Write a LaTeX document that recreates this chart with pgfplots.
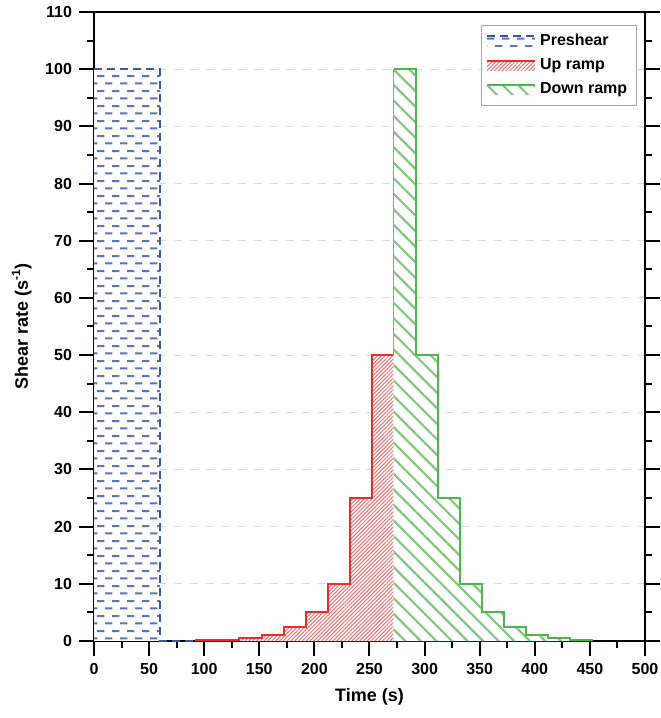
\documentclass[border=0pt]{standalone}
\usepackage{fontspec}
\setmainfont{Liberation Sans}
\usepackage{pgfplots}
\pgfplotsset{compat=1.18}
\usetikzlibrary{patterns.meta}
\definecolor{preline}{HTML}{3A56A8}
\definecolor{prepat}{HTML}{5A74BC}
\definecolor{upline}{HTML}{EE2A2A}
\definecolor{uppat}{HTML}{F27070}
\definecolor{downline}{HTML}{4DB74A}
\definecolor{downpat}{HTML}{80C97D}
\tikzdeclarepattern{
  name=hdashes,
  type=uncolored,
  bottom left={(0pt,0pt)},
  top right={(7.5pt,7.6pt)},
  tile size={(7.5pt,7.6pt)},
  code={
    \pgfsetlinewidth{1pt}
    \pgfpathmoveto{\pgfpoint{0pt}{1.9pt}}\pgfpathlineto{\pgfpoint{3.9pt}{1.9pt}}
    \pgfpathmoveto{\pgfpoint{3.75pt}{5.7pt}}\pgfpathlineto{\pgfpoint{7.5pt}{5.7pt}}
    \pgfusepath{stroke}
  }
}
\begin{document}
\begin{tikzpicture}
\begin{axis}[
  scale only axis,
  width=275.5pt, height=314.5pt,
  xmin=0, xmax=500, ymin=0, ymax=110,
  xtick={0,50,...,500}, ytick={0,10,...,110},
  minor x tick num=1, minor y tick num=1,
  tick align=outside,
  xtick pos=lower, ytick pos=both, yticklabel pos=left,
  major tick length=7.5pt, minor tick length=3.5pt,
  every tick/.style={black, line width=1pt},
  axis line style={black, line width=1.2pt},
  ymajorgrids,
  major grid style={gray!30, line width=0.5pt, dash pattern=on 4pt off 4pt},
  tick label style={font=\bfseries\fontsize{8}{9.6}\selectfont},
  /pgf/number format/assume math mode=true,
  label style={font=\bfseries\fontsize{9}{10.8}\selectfont},
  xlabel={Time (s)},
  ylabel={Shear rate (s\textsuperscript{-1})},
  clip=false,
  legend cell align=left,
  legend style={at={(rel axis cs:0.985,0.98)}, anchor=north east,
    draw=gray!70, line width=0.5pt, font=\bfseries\fontsize{8}{9.6}\selectfont,
    row sep=1pt, inner sep=2.5pt},
]
% preshear
\addplot[draw=none, fill=white, postaction={pattern=hdashes, pattern color=prepat}, forget plot]
  coordinates {(0,100) (60,100)} \closedcycle;
\addplot[preline, line width=1pt, dash pattern=on 4pt off 2.5pt, forget plot]
  coordinates {(0,100) (60,100) (60,0) (92,0)};
% up ramp
\addplot[const plot, draw=none, fill=white, postaction={pattern={Lines[angle=45,distance=1.35pt,line width=0.5pt]}, pattern color=uppat}, forget plot]
  coordinates {(92,0.1) (112,0.25) (132,0.5) (152,1) (172,2.5) (192,5) (212,10) (232,25) (252,50) (272,50)} \closedcycle;
\addplot[const plot, upline, line width=1pt, forget plot]
  coordinates {(92,0.1) (112,0.25) (132,0.5) (152,1) (172,2.5) (192,5) (212,10) (232,25) (252,50) (272,100)};
% down ramp
\addplot[const plot, draw=none, fill=white, postaction={pattern={Lines[angle=-45,distance=5.5pt,line width=1.1pt]}, pattern color=downpat}, forget plot]
  coordinates {(272,100) (292,50) (312,25) (332,10) (352,5) (372,2.5) (392,1) (412,0.5) (432,0.25) (452,0.25)} \closedcycle;
\addplot[const plot, downline, line width=1pt, forget plot]
  coordinates {(272,100) (292,50) (312,25) (332,10) (352,5) (372,2.5) (392,1) (412,0.5) (432,0.25) (452,0)};
\addlegendimage{legend image code/.code={
  \path[draw=none, pattern=hdashes, pattern color=prepat] (0pt,-2.5pt) rectangle (24pt,2.5pt);
  \path[draw=preline, line width=1pt, dash pattern=on 4pt off 2.5pt] (0pt,2.5pt)--(24pt,2.5pt);}}
\addlegendentry{Preshear}
\addlegendimage{legend image code/.code={
  \path[draw=none, pattern={Lines[angle=45,distance=1.35pt,line width=0.5pt]}, pattern color=uppat] (0pt,-2.5pt) rectangle (24pt,2.5pt);
  \path[draw=upline, line width=1pt] (0pt,2.5pt)--(24pt,2.5pt);}}
\addlegendentry{Up ramp}
\addlegendimage{legend image code/.code={
  \path[draw=none, pattern={Lines[angle=-45,distance=5.5pt,line width=1.1pt]}, pattern color=downpat] (0pt,-2.5pt) rectangle (24pt,2.5pt);
  \path[draw=downline, line width=1pt] (0pt,2.5pt)--(24pt,2.5pt);}}
\addlegendentry{Down ramp}
\end{axis}
\pgfresetboundingbox
\path[use as bounding box] ([xshift=-47pt,yshift=-38.5pt]current axis.south west) rectangle ([xshift=8pt,yshift=6pt]current axis.north east);
\end{tikzpicture}
\end{document}
